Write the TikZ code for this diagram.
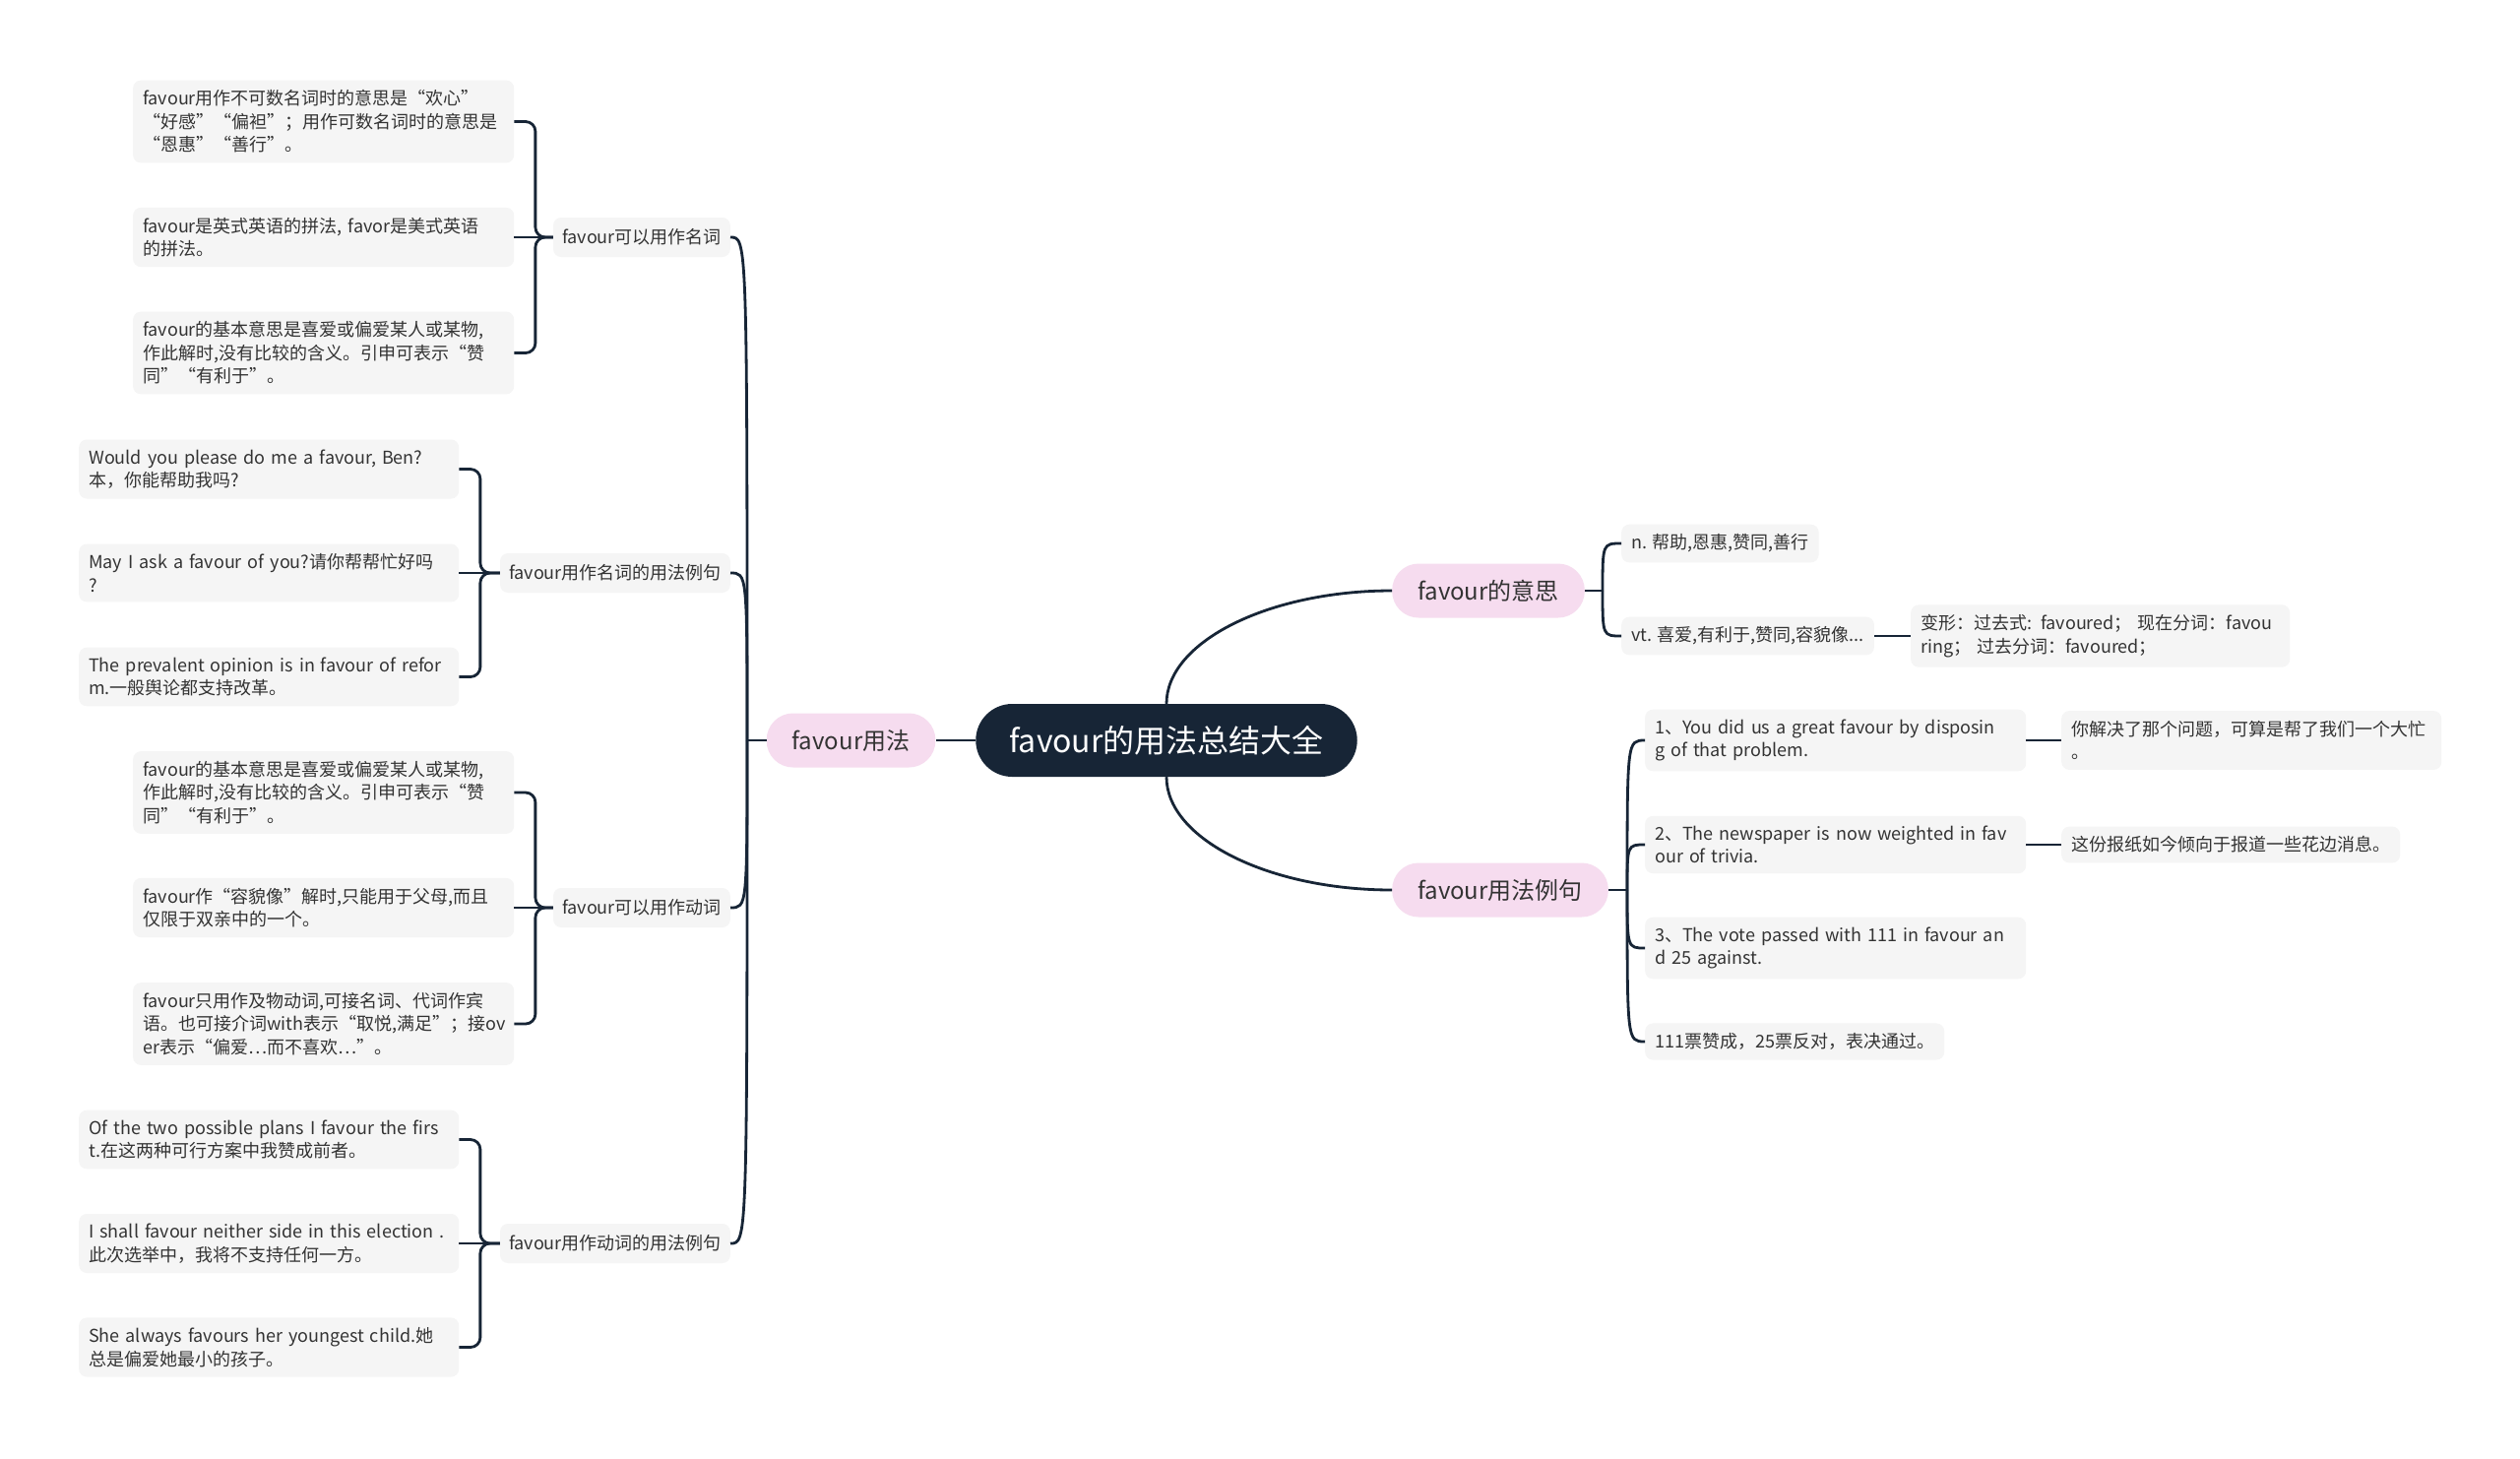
\documentclass[tikz,border=0pt]{standalone}
\usepackage{fontspec}
\setmainfont{Noto Sans CJK SC}
\usepackage{xcolor}
\usepackage{tikz}
\usetikzlibrary{positioning}

\definecolor{rootfill}{HTML}{172536}
\definecolor{pinkfill}{HTML}{F6DCEF}
\definecolor{leaffill}{HTML}{F5F5F5}
\definecolor{inkgray}{HTML}{333333}

\tikzset{
	rootnode/.style={fill=rootfill,text=white,rounded corners=37pt,minimum height=74pt,inner xsep=34pt,font=\fontsize{32}{38}\selectfont},
	mainnode/.style={fill=pinkfill,text=inkgray,rounded corners=27pt,minimum height=55pt,inner xsep=26pt,font=\fontsize{24}{29}\selectfont},
	subnode/.style={fill=leaffill,text=inkgray,rounded corners=8pt,minimum height=40pt,inner xsep=9pt,font=\fontsize{18}{23.5}\selectfont},
	leafnode/.style={fill=leaffill,text=inkgray,rounded corners=8pt,inner xsep=10pt,inner ysep=10pt,align=left,font=\fontsize{18}{23.5}\selectfont},
	link/.style={draw=rootfill,line width=2.8pt}
}

\begin{document}
\begin{tikzpicture}[x=1pt,y=-1pt]
	\fill[white] (0,0) rectangle (2560,1481);
	\useasboundingbox (0,0) rectangle (2560,1481);

	\node[rootnode] (root) at (1185,752) {favour的用法总结大全};
	\node[mainnode] (use) at (864.5,752) {favour用法};
	\node[mainnode,anchor=west] (mean) at (1414,600) {favour的意思};
	\node[mainnode,anchor=west] (demo) at (1414,904) {favour用法例句};

	% left side
	\node[subnode,anchor=east] (nounuse) at (742,241) {favour可以用作名词};
	\node[subnode,anchor=east] (nounex) at (742,582) {favour用作名词的用法例句};
	\node[subnode,anchor=east] (verbuse) at (742,922) {favour可以用作动词};
	\node[subnode,anchor=east] (verbex) at (742,1263) {favour用作动词的用法例句};

	\node[leafnode,text width=367pt,anchor=west] (nm1) at (135,123.5) {favour用作不可数名词时的意思是“欢心”\\“好感”“偏袒”；用作可数名词时的意思是\\“恩惠”“善行”。};
	\node[leafnode,text width=367pt,anchor=west] (nm2) at (135,241) {favour是英式英语的拼法, favor是美式英语\\的拼法。};
	\node[leafnode,text width=367pt,anchor=west] (nm3) at (135,358.5) {favour的基本意思是喜爱或偏爱某人或某物,\\作此解时,没有比较的含义。引申可表示“赞\\同”“有利于”。};

	\node[leafnode,text width=366pt,anchor=west] (ns1) at (80,476.5) {Would you please do me a favour, Ben?\\本，你能帮助我吗?};
	\node[leafnode,text width=366pt,anchor=west] (ns2) at (80,582) {May I ask a favour of you?请你帮帮忙好吗\\?};
	\node[leafnode,text width=366pt,anchor=west] (ns3) at (80,687.5) {The prevalent opinion is in favour of refor\\m.一般舆论都支持改革。};

	\node[leafnode,text width=367pt,anchor=west] (vm1) at (135,805) {favour的基本意思是喜爱或偏爱某人或某物,\\作此解时,没有比较的含义。引申可表示“赞\\同”“有利于”。};
	\node[leafnode,text width=367pt,anchor=west] (vm2) at (135,922) {favour作“容貌像”解时,只能用于父母,而且\\仅限于双亲中的一个。};
	\node[leafnode,text width=367pt,anchor=west] (vm3) at (135,1040) {favour只用作及物动词,可接名词、代词作宾\\语。也可接介词with表示“取悦,满足”；接ov\\er表示“偏爱…而不喜欢…”。};

	\node[leafnode,text width=366pt,anchor=west] (vs1) at (80,1157.5) {Of the two possible plans I favour the firs\\t.在这两种可行方案中我赞成前者。};
	\node[leafnode,text width=366pt,anchor=west] (vs2) at (80,1263) {I shall favour neither side in this election .\\此次选举中，我将不支持任何一方。};
	\node[leafnode,text width=366pt,anchor=west] (vs3) at (80,1368.5) {She always favours her youngest child.她\\总是偏爱她最小的孩子。};

	% right side
	\node[leafnode,anchor=west] (mn1) at (1647,552) {n. 帮助,恩惠,赞同,善行};
	\node[leafnode,anchor=west] (mn2) at (1647,646) {vt. 喜爱,有利于,赞同,容貌像...};
	\node[leafnode,text width=365pt,anchor=west] (form) at (1941,646) {变形：过去式: favoured；  现在分词：favou\\ring；  过去分词：favoured；};

	\node[leafnode,text width=367pt,anchor=west] (ex1) at (1671,752) {1、You did us a great favour by disposin\\g of that problem.};
	\node[leafnode,text width=367pt,anchor=west] (ex2) at (1671,858) {2、The newspaper is now weighted in fav\\our of trivia.};
	\node[leafnode,text width=367pt,anchor=west] (ex3) at (1671,963) {3、The vote passed with 111 in favour an\\d 25 against.};
	\node[leafnode,anchor=west] (ex4) at (1671,1058) {111票赞成，25票反对，表决通过。};

	\node[leafnode,text width=366pt,anchor=west] (tr1) at (2094,752) {你解决了那个问题，可算是帮了我们一个大忙\\。};
	\node[leafnode,anchor=west] (tr2) at (2094,858) {这份报纸如今倾向于报道一些花边消息。};

	% connectors
	\draw[link] (root.west) -- (use.east);
	\draw[link] (root.north) .. controls +(0,-63) and +(-125,0) .. (mean.west);
	\draw[link] (root.south) .. controls +(0,63) and +(-125,0) .. (demo.west);

	\coordinate (usej) at (759,752);
	\draw[link] (use.west) -- (usej);
	\foreach \c in {nounuse,nounex,verbuse,verbex}
		\draw[link] (usej) .. controls (usej |- \c.east) .. (\c.east);

	\foreach \p/\k in {nounuse/nm,verbuse/vm}{
		\draw[link] (\p.west) -- (\k2.east);
		\foreach \i in {1,3}
			\draw[link,rounded corners=10pt] (\p.west) -- ++(-18,0) |- (\k\i.east);
	}
	\foreach \p/\k in {nounex/ns,verbex/vs}{
		\draw[link] (\p.west) -- (\k2.east);
		\foreach \i in {1,3}
			\draw[link,rounded corners=10pt] (\p.west) -- ++(-20,0) |- (\k\i.east);
	}

	\coordinate (meanj) at ([xshift=18pt]mean.east);
	\draw[link] (mean.east) -- (meanj);
	\foreach \c in {mn1,mn2}
		\draw[link] (meanj) .. controls (meanj |- \c.west) .. (\c.west);
	\draw[link] (mn2.east) -- (form.west);

	\coordinate (demoj) at ([xshift=19pt]demo.east);
	\draw[link] (demo.east) -- (demoj);
	\foreach \c in {ex1,ex2,ex3,ex4}
		\draw[link] (demoj) .. controls (demoj |- \c.west) .. (\c.west);
	\draw[link] (ex1.east) -- (tr1.west);
	\draw[link] (ex2.east) -- (tr2.west);
\end{tikzpicture}
\end{document}
